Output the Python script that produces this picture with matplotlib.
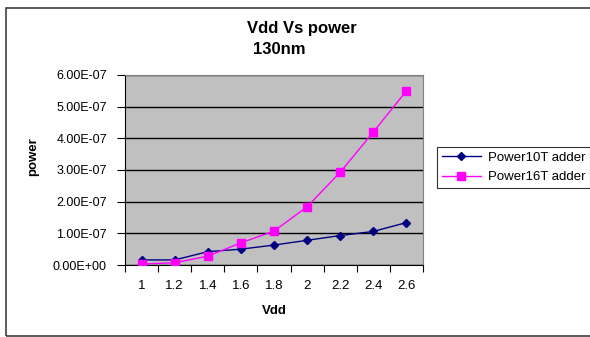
import matplotlib
matplotlib.use("Agg")
import matplotlib.pyplot as plt
from matplotlib.patches import Rectangle
from matplotlib.ticker import FixedLocator, MultipleLocator, FuncFormatter

categories = ["1", "1.2", "1.4", "1.6", "1.8", "2", "2.2", "2.4", "2.6"]
power10t = [1.6e-8, 1.6e-8, 4.2e-8, 5.0e-8, 6.3e-8, 7.8e-8, 9.3e-8, 1.06e-7, 1.34e-7]
power16t = [3e-9, 7e-9, 2.8e-8, 7.0e-8, 1.07e-7, 1.84e-7, 2.93e-7, 4.2e-7, 5.5e-7]
series_names = ["Power10T adder", "Power16T adder"]

plt.rcParams['font.family'] = ['Liberation Sans', 'DejaVu Sans']

fig = plt.figure(figsize=(5.9, 3.37), dpi=100)
fig.patch.set_facecolor('white')
fig.add_artist(Rectangle((6/590, 1-335.5/337), 600/590, 328/337, transform=fig.transFigure,
                         fill=False, edgecolor='#404040', linewidth=1.2))

ax = fig.add_axes([125/590, 1-265/337, 298/590, 190/337])
ax.set_facecolor('#c0c0c0')
x = list(range(len(categories)))
ax.plot(x, power10t, color='#000080', marker='D', markersize=4.5, linewidth=1.0,
        label=series_names[0], zorder=3)
ax.plot(x, power16t, color='#ff00ff', marker='s', markersize=6, linewidth=1.0,
        label=series_names[1], zorder=3)

ax.set_xlim(-0.5, len(categories)-0.5)
ax.set_ylim(0, 6e-7)
ax.yaxis.set_major_locator(MultipleLocator(1e-7))
ax.yaxis.set_major_formatter(FuncFormatter(lambda v, p: "%.2E" % v))
ax.grid(axis='y', color='black', linewidth=1.0)
ax.set_axisbelow(True)

ax.xaxis.set_major_locator(FixedLocator([i + 0.5 for i in range(-1, len(categories))]))
ax.xaxis.set_major_formatter(FuncFormatter(lambda v, p: ""))
ax.set_xticks(x, categories, minor=True)
ax.tick_params(axis='x', which='minor', length=0, pad=11, labelsize=9.5, labelcolor='black')
ax.tick_params(axis='x', which='major', length=5, direction='out', color='black')
ax.tick_params(axis='y', length=6, direction='out', labelsize=9, pad=7)

for s in ['top', 'right']:
    ax.spines[s].set_color('#808080')
for s in ['left', 'bottom']:
    ax.spines[s].set_color('black')

ax.set_xlabel('Vdd', fontsize=9.5, fontweight='bold')
ax.xaxis.set_label_coords(0.5, (265 - 310.5) / 190)
ax.xaxis.label.set_va('center')
ax.set_ylabel('power', fontsize=9.5, fontweight='bold')
ax.yaxis.set_label_coords((33 - 125) / 298, (265 - 157) / 190)
ax.yaxis.label.set_va('center')

fig.text(302/590, 1-29/337, 'Vdd Vs power', fontsize=12, fontweight='bold', ha='center', va='center')
fig.text(279/590, 1-50/337, '130nm', fontsize=12, fontweight='bold', ha='center', va='center')

leg = fig.legend(loc='upper left', bbox_to_anchor=(437/590, 1-147/337), fontsize=9.5,
                 frameon=True, fancybox=False, edgecolor='black', borderpad=0.35,
                 handlelength=3.0, handletextpad=0.5, labelspacing=0.55, borderaxespad=0)
leg.get_frame().set_linewidth(0.8)

fig.savefig('out.png', dpi=100)
